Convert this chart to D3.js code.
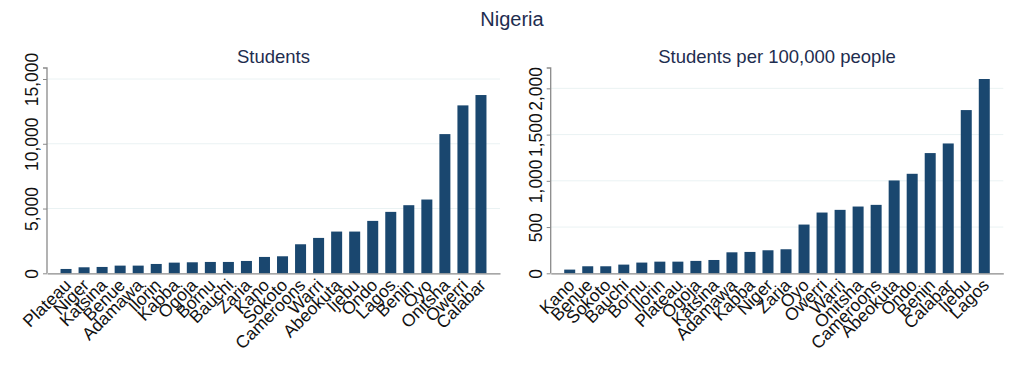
<!DOCTYPE html>
<html>
<head>
<meta charset="utf-8">
<script src="https://cdn.jsdelivr.net/npm/d3@7"></script>
<style>
  body { margin: 0; background: #fff; }
  svg { font-family: "Liberation Sans", Arial, sans-serif; }
</style>
</head>
<body>
<div id="chart"></div>
<script>
// Students (left panel)
const studentProvinces = ['Plateau', 'Niger', 'Katsina', 'Benue', 'Adamawa', 'Ilorin', 'Kabba', 'Ogoja',
    'Bornu', 'Bauchi', 'Zaria', 'Kano', 'Sokoto', 'Cameroons', 'Warri', 'Abeokuta', 'Ijebu', 'Ondo',
    'Lagos', 'Benin', 'Oyo', 'Onitsha', 'Owerri', 'Calabar'];
const studentValues = [335, 464, 490, 593, 593, 721, 824, 850, 876, 876, 953, 1263, 1314, 2242, 2732,
    3222, 3222, 4046, 4742, 5258, 5696, 10747, 12964, 13763];
const studentTicks = [0, 5000, 10000, 15000];

// Students per 100,000 people (right panel)
const rateProvinces = ['Kano', 'Benue', 'Sokoto', 'Bauchi', 'Bornu', 'Ilorin', 'Plateau', 'Ogoja',
    'Katsina', 'Adamawa', 'Kabba', 'Niger', 'Zaria', 'Oyo', 'Owerri', 'Warri', 'Onitsha', 'Cameroons',
    'Abeokuta', 'Ondo', 'Benin', 'Calabar', 'Ijebu', 'Lagos'];
const rateValues = [40, 76, 76, 94, 116, 126, 126, 134, 144, 227, 231, 249, 260, 527, 657, 686, 722,
    740, 1004, 1076, 1300, 1404, 1765, 2101];
const rateTicks = [0, 500, 1000, 1500, 2000];

const width = 1024, height = 372;
const barColor = '#1a476f';
const titleColor = '#1e2d4f';

const svg = d3.select('#chart')
    .append('svg')
    .attr('width', width)
    .attr('height', height);

svg.append('text')
    .attr('x', 512)
    .attr('y', 26)
    .attr('text-anchor', 'middle')
    .attr('font-size', 20)
    .attr('fill', titleColor)
    .text('Nigeria');

function drawPanel(opts) {
    const x = d3.scaleBand()
        .domain(opts.names)
        .range([opts.left, opts.right])
        .paddingInner(0.39)
        .paddingOuter(0.75);

    const y = d3.scaleLinear()
        .domain([0, opts.max])
        .range([opts.bottom, opts.top]);

    const g = svg.append('g');

    // subtitle
    g.append('text')
        .attr('x', (opts.left + opts.right) / 2)
        .attr('y', 63)
        .attr('text-anchor', 'middle')
        .attr('font-size', 18.5)
        .attr('fill', titleColor)
        .text(opts.title);

    // gridlines
    g.selectAll('.grid')
        .data(opts.ticks.filter(t => t > 0))
        .enter()
        .append('line')
        .attr('x1', opts.left)
        .attr('x2', opts.right)
        .attr('y1', d => y(d))
        .attr('y2', d => y(d))
        .attr('stroke', '#eaf2f3')
        .attr('stroke-width', 1);

    // bars
    g.selectAll('rect')
        .data(opts.names.map((n, i) => ({name: n, value: opts.values[i]})))
        .enter()
        .append('rect')
        .attr('x', d => x(d.name))
        .attr('y', d => y(d.value))
        .attr('width', x.bandwidth())
        .attr('height', d => y(0) - y(d.value))
        .attr('fill', barColor);

    // y axis
    const yAxis = g.append('g')
        .attr('transform', `translate(${opts.left},0)`)
        .call(d3.axisLeft(y).tickValues(opts.ticks).tickSize(4).tickFormat(d3.format(',')));
    yAxis.select('.domain')
        .attr('d', `M-4,${opts.top}H0V${opts.bottom}`)
        .attr('stroke', '#8a8a8a')
        .attr('stroke-width', 1.3);
    yAxis.selectAll('.tick line').attr('stroke', '#8a8a8a');
    yAxis.selectAll('.tick text')
        .attr('x', null)
        .attr('dy', null)
        .attr('transform', 'translate(-9,0) rotate(-90)')
        .attr('text-anchor', 'middle')
        .attr('font-size', 17.5)
        .attr('fill', '#111');

    // x axis
    const xAxis = g.append('g')
        .attr('transform', `translate(0,${opts.bottom})`)
        .call(d3.axisBottom(x).tickSize(0));
    xAxis.select('.domain')
        .attr('stroke', '#8a8a8a')
        .attr('stroke-width', 1.3);
    xAxis.selectAll('.tick text')
        .attr('y', null)
        .attr('dy', null)
        .attr('transform', 'translate(6,13) rotate(-45)')
        .attr('text-anchor', 'end')
        .attr('font-size', 17.5)
        .attr('fill', '#111');
}

drawPanel({
    title: 'Students',
    names: studentProvinces,
    values: studentValues,
    ticks: studentTicks,
    max: 15850,
    left: 47, right: 500, top: 68, bottom: 273.3
});

drawPanel({
    title: 'Students per 100,000 people',
    names: rateProvinces,
    values: rateValues,
    ticks: rateTicks,
    max: 2220,
    left: 550.7, right: 1003.3, top: 68, bottom: 273.3
});
</script>
</body>
</html>
